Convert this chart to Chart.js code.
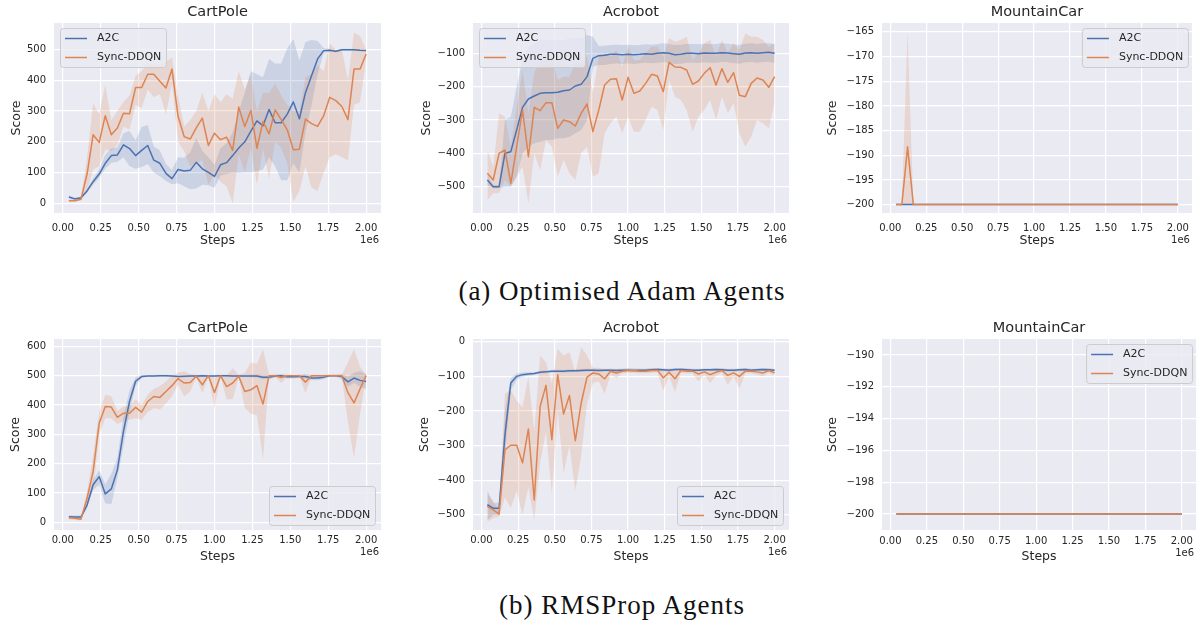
<!DOCTYPE html>
<html>
<head>
<meta charset="utf-8">
<title>A2C vs Sync-DDQN</title>
<script src="https://cdn.jsdelivr.net/npm/chart.js@4.4.0/dist/chart.umd.min.js"></script>
<style>
  html, body { margin: 0; padding: 0; background: #fff; }
  #fig { position: relative; width: 1198px; height: 623px; overflow: hidden; }
  #fig canvas { position: absolute; }
  .caption {
    position: absolute; left: 372px; width: 500px; height: 30px; line-height: 30px;
    text-align: center; font-family: "Liberation Serif", serif; font-size: 27px;
    letter-spacing: 1px; color: #111;
  }
</style>
</head>
<body>
<div id="fig">
  <div class="caption" style="top:276px">(a) Optimised Adam Agents</div>
  <div class="caption" style="top:590px">(b) RMSProp Agents</div>
</div>
<script>
// training steps (x 1e6)
const steps = [0.04, 0.08, 0.12, 0.16, 0.20, 0.24, 0.28, 0.32, 0.36, 0.40,
  0.44, 0.48, 0.52, 0.56, 0.60, 0.64, 0.68, 0.72, 0.76, 0.80,
  0.84, 0.88, 0.92, 0.96, 1.00, 1.04, 1.08, 1.12, 1.16, 1.20,
  1.24, 1.28, 1.32, 1.36, 1.40, 1.44, 1.48, 1.52, 1.56, 1.60,
  1.64, 1.68, 1.72, 1.76, 1.80, 1.84, 1.88, 1.92, 1.96, 2.00];
const stepTicks = [0, 0.25, 0.5, 0.75, 1, 1.25, 1.5, 1.75, 2];

// tick labels of the score axes
const cpAdamTicks = [0, 100, 200, 300, 400, 500];
const acAdamTicks = [-500, -400, -300, -200, -100];
const mcAdamTicks = [-200, -195, -190, -185, -180, -175, -170, -165];
const cpRmsTicks = [0, 100, 200, 300, 400, 500, 600];
const acRmsTicks = [-500, -400, -300, -200, -100, 0];
const mcRmsTicks = [-200, -198, -196, -194, -192, -190];

// (a) Adam - CartPole
const cpAdamA2C = [20, 14, 18, 40, 70, 95, 130, 155, 157, 190, 178, 155, 172, 188, 140, 130, 97, 80, 110, 105,
  107, 133, 112, 100, 87, 125, 132, 155, 180, 200, 235, 268, 252, 305, 262, 262, 290, 330, 275, 360,
  415, 470, 497, 498, 495, 500, 500, 500, 498, 497];
const cpAdamA2CLo = [15, 10, 14, 34, 60, 82, 112, 132, 135, 150, 120, 112, 118, 128, 100, 88, 72, 62, 65, 55,
  45, 48, 60, 58, 50, 90, 95, 100, 98, 100, 100, 105, 110, 150, 120, 75, 75, 130, 100, 230,
  320, 420, 490, 494, 491, 497, 497, 497, 495, 494];
const cpAdamA2CHi = [25, 18, 22, 46, 80, 110, 158, 178, 182, 228, 235, 205, 248, 255, 185, 172, 128, 108, 150, 148,
  165, 212, 170, 150, 125, 180, 195, 230, 300, 360, 430, 420, 410, 470, 455, 455, 505, 535, 465, 525,
  532, 528, 505, 502, 499, 503, 503, 503, 501, 500];
const cpAdamDQN = [8, 8, 13, 95, 223, 198, 285, 223, 245, 293, 291, 377, 377, 420, 420, 397, 375, 437, 283, 217,
  209, 245, 277, 188, 228, 207, 215, 172, 313, 250, 302, 179, 266, 226, 304, 272, 239, 174, 176, 274,
  259, 250, 285, 345, 334, 315, 272, 437, 437, 486];
const cpAdamDQNLo = [5, 5, 10, 40, 110, 120, 175, 170, 190, 250, 240, 320, 310, 370, 345, 355, 290, 390, 200, 170,
  120, 130, 140, 60, 95, 70, 55, 0, 160, 100, 180, 60, 180, 80, 200, 180, 130, 5, 40, 120,
  50, 40, 100, 150, 160, 150, 140, 320, 330, 470];
const cpAdamDQNHi = [12, 12, 18, 150, 325, 290, 385, 270, 300, 330, 350, 415, 430, 460, 450, 450, 460, 475, 350, 250,
  270, 300, 360, 300, 355, 330, 355, 340, 430, 370, 420, 300, 360, 360, 390, 350, 320, 300, 300, 410,
  420, 450, 430, 520, 500, 500, 400, 555, 545, 500];

// (a) Adam - Acrobot
const acAdamA2C = [-480, -500, -500, -400, -395, -330, -262, -237, -228, -220, -218, -218, -217, -212, -210, -198, -193, -170, -115, -107,
  -106, -103, -103, -104, -103, -104, -103, -101, -103, -100, -98, -100, -104, -103, -100, -100, -101, -99, -100, -100,
  -98, -99, -101, -103, -99, -98, -100, -98, -97, -100];
const acAdamA2CLo = [-495, -505, -505, -500, -500, -470, -400, -380, -370, -365, -360, -360, -355, -355, -350, -340, -330, -300, -140, -135,
  -135, -132, -130, -132, -130, -132, -130, -128, -130, -128, -127, -128, -132, -131, -128, -128, -129, -127, -128, -128,
  -126, -127, -129, -131, -127, -126, -128, -126, -125, -128];
const acAdamA2CHi = [-465, -495, -495, -300, -290, -200, -120, -80, -70, -60, -60, -60, -60, -60, -55, -55, -55, -45, -50, -78,
  -77, -75, -74, -75, -74, -76, -75, -73, -74, -72, -70, -72, -75, -74, -72, -72, -73, -71, -72, -72,
  -70, -71, -73, -75, -71, -70, -72, -70, -70, -72];
const acAdamDQN = [-460, -480, -400, -390, -490, -380, -270, -410, -262, -272, -248, -248, -325, -300, -305, -318, -280, -252, -335, -270,
  -195, -178, -176, -240, -172, -220, -213, -190, -163, -168, -215, -127, -141, -142, -150, -193, -183, -160, -143, -195,
  -146, -187, -158, -226, -230, -190, -174, -180, -202, -170];
const acAdamDQNLo = [-540, -520, -520, -480, -500, -470, -440, -550, -400, -450, -360, -380, -470, -420, -460, -480, -400, -380, -470, -460,
  -340, -310, -290, -340, -290, -335, -335, -300, -260, -270, -330, -180, -230, -240, -270, -335, -290, -270, -240, -300,
  -230, -280, -250, -340, -380, -350, -300, -310, -325, -250];
const acAdamDQNHi = [-390, -440, -280, -290, -380, -260, -150, -280, -160, -120, -110, -110, -180, -170, -170, -130, -130, -110, -220, -110,
  -100, -110, -90, -140, -80, -120, -120, -100, -80, -80, -110, -55, -65, -60, -50, -120, -100, -70, -60, -110,
  -60, -100, -70, -90, -40, -50, -50, -60, -80, -70];

// (a) Adam - MountainCar
const mcAdamA2C = [-200, -200, -200, -200, -200, -200, -200, -200, -200, -200,
  -200, -200, -200, -200, -200, -200, -200, -200, -200, -200,
  -200, -200, -200, -200, -200, -200, -200, -200, -200, -200,
  -200, -200, -200, -200, -200, -200, -200, -200, -200, -200,
  -200, -200, -200, -200, -200, -200, -200, -200, -200, -200];
const mcAdamDQN = [-200, -200, -188.3, -200, -200, -200, -200, -200, -200, -200,
  -200, -200, -200, -200, -200, -200, -200, -200, -200, -200,
  -200, -200, -200, -200, -200, -200, -200, -200, -200, -200,
  -200, -200, -200, -200, -200, -200, -200, -200, -200, -200,
  -200, -200, -200, -200, -200, -200, -200, -200, -200, -200];
const mcAdamDQNLo = [-200, -200, -200, -200, -200, -200, -200, -200, -200, -200,
  -200, -200, -200, -200, -200, -200, -200, -200, -200, -200,
  -200, -200, -200, -200, -200, -200, -200, -200, -200, -200,
  -200, -200, -200, -200, -200, -200, -200, -200, -200, -200,
  -200, -200, -200, -200, -200, -200, -200, -200, -200, -200];
const mcAdamDQNHi = [-200, -200, -165, -200, -200, -200, -200, -200, -200, -200,
  -200, -200, -200, -200, -200, -200, -200, -200, -200, -200,
  -200, -200, -200, -200, -200, -200, -200, -200, -200, -200,
  -200, -200, -200, -200, -200, -200, -200, -200, -200, -200,
  -200, -200, -200, -200, -200, -200, -200, -200, -200, -200];

// (b) RMSProp - CartPole
const cpRmsA2C = [19, 18, 18, 59, 128, 156, 97, 114, 179, 310, 412, 481, 497, 499, 499, 500, 500, 499, 497, 498,
  499, 499, 500, 499, 499, 500, 500, 499, 499, 499, 499, 499, 495, 495, 499, 500, 496, 496, 497, 497,
  492, 492, 495, 500, 500, 497, 479, 492, 484, 480];
const cpRmsA2CLo = [14, 13, 13, 50, 110, 128, 65, 62, 150, 260, 375, 465, 492, 496, 496, 497, 497, 496, 494, 495,
  496, 496, 497, 496, 496, 497, 497, 496, 496, 496, 495, 494, 488, 488, 494, 496, 490, 490, 492, 490,
  484, 484, 488, 496, 496, 488, 462, 476, 462, 455];
const cpRmsA2CHi = [24, 23, 23, 68, 145, 178, 130, 165, 220, 360, 450, 495, 502, 502, 502, 503, 503, 502, 500, 501,
  502, 502, 503, 502, 502, 503, 503, 502, 502, 502, 503, 504, 502, 502, 504, 504, 502, 502, 502, 504,
  500, 500, 502, 504, 504, 506, 496, 510, 515, 505];
const cpRmsDQN = [16, 14, 11, 82, 173, 338, 395, 393, 358, 372, 372, 392, 376, 412, 429, 426, 446, 466, 490, 475,
  477, 498, 469, 500, 443, 500, 463, 475, 498, 446, 452, 466, 403, 500, 500, 494, 500, 500, 500, 478,
  500, 500, 500, 500, 500, 500, 442, 407, 455, 500];
const cpRmsDQNLo = [10, 8, 6, 60, 110, 300, 355, 355, 335, 345, 350, 355, 350, 375, 390, 385, 405, 430, 470, 430,
  445, 495, 440, 497, 390, 497, 420, 420, 495, 390, 370, 365, 215, 497, 497, 475, 497, 497, 497, 440,
  497, 497, 497, 497, 497, 497, 340, 220, 370, 497];
const cpRmsDQNHi = [22, 20, 16, 105, 230, 375, 435, 430, 380, 395, 395, 420, 400, 435, 455, 465, 480, 500, 510, 515,
  505, 503, 495, 503, 495, 503, 500, 525, 503, 510, 545, 540, 590, 503, 503, 505, 503, 503, 503, 505,
  503, 503, 503, 503, 503, 503, 545, 590, 530, 503];

// (b) RMSProp - Acrobot
const acRmsA2C = [-471, -481, -481, -269, -119, -100, -95, -93, -92, -88, -87, -85, -85, -85, -84, -84, -83, -82, -82, -83,
  -82, -82, -83, -82, -82, -83, -82, -82, -81, -80, -81, -82, -80, -80, -81, -82, -82, -81, -81, -80,
  -81, -82, -82, -81, -80, -82, -81, -80, -81, -82];
const acRmsA2CLo = [-515, -500, -500, -330, -140, -110, -101, -98, -96, -92, -91, -89, -89, -89, -88, -88, -87, -86, -86, -87,
  -86, -86, -87, -86, -86, -87, -86, -86, -85, -84, -85, -86, -84, -84, -85, -86, -86, -85, -85, -84,
  -85, -86, -86, -85, -84, -86, -85, -84, -85, -86];
const acRmsA2CHi = [-430, -465, -465, -200, -105, -92, -89, -88, -88, -84, -83, -81, -81, -81, -80, -80, -79, -78, -78, -79,
  -78, -78, -79, -78, -78, -79, -78, -78, -77, -76, -77, -78, -76, -76, -77, -78, -78, -77, -77, -76,
  -77, -78, -78, -77, -76, -78, -77, -76, -77, -78];
const acRmsDQN = [-476, -486, -498, -312, -299, -299, -350, -252, -457, -187, -126, -283, -95, -209, -155, -286, -177, -102, -90, -93,
  -107, -85, -90, -85, -83, -83, -85, -85, -83, -82, -104, -88, -107, -83, -85, -85, -93, -87, -95, -88,
  -83, -97, -90, -100, -85, -85, -87, -90, -83, -90];
const acRmsDQNLo = [-520, -510, -505, -450, -480, -430, -500, -420, -515, -350, -260, -440, -200, -380, -300, -430, -330, -180, -120, -115,
  -150, -95, -105, -92, -90, -90, -92, -92, -90, -88, -140, -100, -145, -90, -92, -92, -115, -95, -120, -98,
  -90, -125, -100, -135, -92, -92, -95, -100, -90, -98];
const acRmsDQNHi = [-440, -460, -490, -150, -140, -170, -190, -100, -260, -40, -60, -120, -20, -40, -30, -90, -15, -40, -75, -75,
  -80, -78, -78, -78, -76, -76, -78, -78, -76, -75, -80, -78, -80, -76, -78, -78, -80, -80, -80, -80,
  -76, -80, -80, -80, -78, -78, -80, -80, -76, -82];

// (b) RMSProp - MountainCar
const mcRmsA2C = [-200, -200, -200, -200, -200, -200, -200, -200, -200, -200,
  -200, -200, -200, -200, -200, -200, -200, -200, -200, -200,
  -200, -200, -200, -200, -200, -200, -200, -200, -200, -200,
  -200, -200, -200, -200, -200, -200, -200, -200, -200, -200,
  -200, -200, -200, -200, -200, -200, -200, -200, -200, -200];
const mcRmsDQN = [-200, -200, -200, -200, -200, -200, -200, -200, -200, -200,
  -200, -200, -200, -200, -200, -200, -200, -200, -200, -200,
  -200, -200, -200, -200, -200, -200, -200, -200, -200, -200,
  -200, -200, -200, -200, -200, -200, -200, -200, -200, -200,
  -200, -200, -200, -200, -200, -200, -200, -200, -200, -200];

const BLUE = '#4c72b0';
const ORANGE = '#dd8452';
const BLUE_BAND = 'rgba(76,114,176,0.2)';
const ORANGE_BAND = 'rgba(221,132,82,0.2)';
const INK = '#262626';
const FONT = '"DejaVu Sans", sans-serif';

Chart.defaults.font.family = FONT;
Chart.defaults.color = INK;

// one entry per subplot; area = plot rectangle on the page [left, top, right, bottom]
const panels = [
  { left: 0, top: 0, w: 395, h: 265, area: [54, 23, 381, 213], title: 'CartPole',
    yMin: -32, yMax: 587, yTicks: cpAdamTicks, scoreX: 17, stepsY: 241, tickY: 228, legend: 'ul',
    a2c: [cpAdamA2C, cpAdamA2CLo, cpAdamA2CHi], dqn: [cpAdamDQN, cpAdamDQNLo, cpAdamDQNHi] },
  { left: 400, top: 0, w: 400, h: 265, area: [473, 23, 789, 213], title: 'Acrobot',
    yMin: -579, yMax: -9, yTicks: acAdamTicks, scoreX: 427, stepsY: 241, tickY: 228, legend: 'ul',
    a2c: [acAdamA2C, acAdamA2CLo, acAdamA2CHi], dqn: [acAdamDQN, acAdamDQNLo, acAdamDQNHi] },
  { left: 800, top: 0, w: 398, h: 265, area: [882, 23, 1197, 213], title: 'MountainCar',
    yMin: -201.7, yMax: -163.2, yTicks: mcAdamTicks, scoreX: 833, stepsY: 241, tickY: 228, legend: 'ur',
    a2c: [mcAdamA2C, mcAdamA2C, mcAdamA2C], dqn: [mcAdamDQN, mcAdamDQNLo, mcAdamDQNHi] },
  { left: 0, top: 316, w: 395, h: 265, area: [54, 339, 381, 530], title: 'CartPole',
    yMin: -26, yMax: 625, yTicks: cpRmsTicks, scoreX: 16, stepsY: 557, tickY: 540, legend: 'lr',
    a2c: [cpRmsA2C, cpRmsA2CLo, cpRmsA2CHi], dqn: [cpRmsDQN, cpRmsDQNLo, cpRmsDQNHi] },
  { left: 400, top: 316, w: 400, h: 265, area: [473, 339, 789, 530], title: 'Acrobot',
    yMin: -544, yMax: 8, yTicks: acRmsTicks, scoreX: 425, stepsY: 557, tickY: 540, legend: 'lr',
    a2c: [acRmsA2C, acRmsA2CLo, acRmsA2CHi], dqn: [acRmsDQN, acRmsDQNLo, acRmsDQNHi] },
  { left: 800, top: 316, w: 398, h: 265, area: [882, 339, 1197, 530], title: 'MountainCar',
    yMin: -201, yMax: -189, yTicks: mcRmsTicks, scoreX: 833, stepsY: 557, tickY: 541, legend: 'ur',
    a2c: [mcRmsA2C, mcRmsA2C, mcRmsA2C], dqn: [mcRmsDQN, mcRmsDQN, mcRmsDQN] }
];

function pts(arr) {
  return steps.map((s, i) => ({ x: s, y: arr[i] }));
}

function minusSign(v) {
  return String(v).replace('-', '\u2212');
}

// grey axes background, subplot title, legend box and the "1e6" offset text
const decor = {
  id: 'decor',
  beforeDraw(chart) {
    const a = chart.chartArea;
    const ctx = chart.ctx;
    ctx.save();
    ctx.fillStyle = '#eaeaf2';
    ctx.fillRect(a.left, a.top, a.right - a.left, a.bottom - a.top);
    ctx.restore();
  },
  afterDraw(chart, args, o) {
    const a = chart.chartArea;
    const ctx = chart.ctx;
    ctx.save();
    ctx.fillStyle = INK;
    ctx.textBaseline = 'middle';
    ctx.textAlign = 'center';
    ctx.font = '14.5px ' + FONT;
    ctx.fillText(o.title, (a.left + a.right) / 2, a.top - 11);

    ctx.font = '10px ' + FONT;
    ctx.textAlign = 'right';
    ctx.fillText('1e6', a.right - 2, o.offsetY);

    const bw = 106, bh = 39;
    let bx, by;
    if (o.legend === 'ul') { bx = a.left + 6; by = a.top + 5; }
    else if (o.legend === 'ur') { bx = a.right - 4 - bw; by = a.top + 5; }
    else { bx = a.right - 6 - bw; by = a.bottom - 5 - bh; }
    ctx.beginPath();
    ctx.roundRect(bx + 0.5, by + 0.5, bw, bh, 3);
    ctx.fillStyle = 'rgba(234,234,242,0.8)';
    ctx.fill();
    ctx.strokeStyle = '#cccccc';
    ctx.lineWidth = 1;
    ctx.stroke();

    const items = [['A2C', BLUE], ['Sync-DDQN', ORANGE]];
    ctx.font = '11px ' + FONT;
    ctx.textAlign = 'left';
    items.forEach(([label, color], k) => {
      const y = by + 10.5 + k * 19;
      ctx.beginPath();
      ctx.moveTo(bx + 5, y);
      ctx.lineTo(bx + 27, y);
      ctx.strokeStyle = color;
      ctx.lineWidth = 1.5;
      ctx.stroke();
      ctx.fillStyle = INK;
      ctx.fillText(label, bx + 37, y);
    });
    ctx.restore();
  }
};

const fig = document.getElementById('fig');

panels.forEach(p => {
  const cv = document.createElement('canvas');
  cv.width = p.w;
  cv.height = p.h;
  cv.style.left = p.left + 'px';
  cv.style.top = p.top + 'px';
  cv.style.width = p.w + 'px';
  cv.style.height = p.h + 'px';
  fig.appendChild(cv);

  const [al, at, ar, ab] = p.area;
  const labelLH = 12.5 * 1.2;
  const band = (data, color, order, fill) => ({
    data: pts(data), borderWidth: 0, borderColor: 'transparent', pointRadius: 0,
    backgroundColor: color, fill: fill, order: order
  });
  const line = (label, data, color, order) => ({
    label: label, data: pts(data), borderColor: color, borderWidth: 1.5,
    pointRadius: 0, fill: false, tension: 0, borderJoinStyle: 'round', order: order
  });

  new Chart(cv, {
    type: 'line',
    data: {
      datasets: [
        band(p.a2c[1], BLUE_BAND, 5, false),
        band(p.a2c[2], BLUE_BAND, 4, '-1'),
        band(p.dqn[1], ORANGE_BAND, 3, false),
        band(p.dqn[2], ORANGE_BAND, 2, '-1'),
        line('A2C', p.a2c[0], BLUE, 1),
        line('Sync-DDQN', p.dqn[0], ORANGE, 0)
      ]
    },
    options: {
      responsive: false,
      animation: false,
      devicePixelRatio: 1,
      layout: {
        autoPadding: false,
        padding: { left: 0, top: at - p.top, right: p.left + p.w - ar, bottom: 0 }
      },
      plugins: {
        legend: { display: false },
        tooltip: { enabled: false },
        decor: { title: p.title, legend: p.legend, offsetY: p.tickY + 12.5 - p.top }
      },
      scales: {
        x: {
          type: 'linear',
          min: -0.058,
          max: 2.098,
          afterBuildTicks: s => { s.ticks = stepTicks.map(v => ({ value: v })); },
          afterFit: s => { s.height = p.top + p.h - ab; },
          ticks: {
            autoSkip: false, maxRotation: 0, font: { size: 10 }, color: INK,
            padding: p.tickY - ab - 6,
            callback: v => v.toFixed(2)
          },
          grid: { color: '#ffffff', lineWidth: 1.2, drawTicks: false },
          border: { display: false },
          title: {
            display: true, text: 'Steps', font: { size: 12.5 }, color: INK,
            padding: { top: 0, bottom: p.top + p.h - p.stepsY - labelLH / 2 }
          }
        },
        y: {
          type: 'linear',
          min: p.yMin,
          max: p.yMax,
          afterBuildTicks: s => { s.ticks = p.yTicks.map(v => ({ value: v })); },
          afterFit: s => { s.width = al - p.left; },
          ticks: {
            autoSkip: false, font: { size: 10 }, color: INK, padding: 8,
            callback: v => minusSign(v)
          },
          grid: { color: '#ffffff', lineWidth: 1.2, drawTicks: false },
          border: { display: false },
          title: {
            display: true, text: 'Score', font: { size: 12.5 }, color: INK,
            padding: { top: p.scoreX - p.left - labelLH / 2, bottom: 0 }
          }
        }
      }
    },
    plugins: [decor]
  });
});
</script>
</body>
</html>
